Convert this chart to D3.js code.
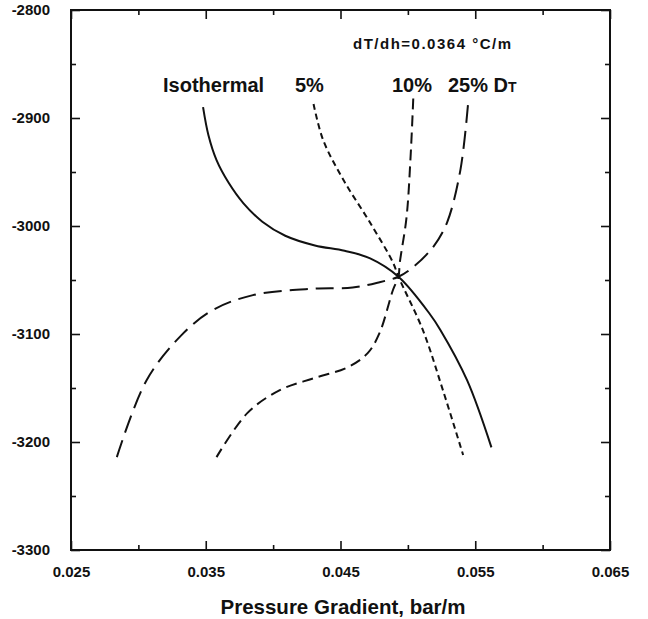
<!DOCTYPE html>
<html>
<head>
<meta charset="utf-8">
<script src="https://cdn.jsdelivr.net/npm/d3@7"></script>
<style>
  body { margin: 0; background: #fff; }
  svg text { font-family: "Liberation Sans", Arial, sans-serif; font-weight: bold; fill: #111; }
</style>
</head>
<body>
<div id="chart"></div>
<script>
// curves: pressure gradient (bar/m) vs depth (m)
var isoGrad  = [0.0348, 0.0352, 0.0358, 0.0367, 0.0378, 0.0392, 0.0409, 0.0431, 0.0453, 0.0472, 0.0493, 0.0516, 0.0524, 0.0544, 0.0562];
var isoDepth = [-2890, -2916, -2939, -2960, -2979, -2996, -3009, -3018, -3023, -3030, -3047, -3081, -3096, -3143, -3205];

var p5Grad  = [0.0430, 0.0437, 0.0452, 0.0472, 0.0489, 0.0493, 0.0511, 0.0526, 0.0541];
var p5Depth = [-2887, -2920, -2957, -2997, -3034, -3047, -3096, -3152, -3212];

var p10Grad  = [0.0504, 0.0502, 0.0499, 0.0494, 0.0493, 0.0489, 0.0479, 0.0470, 0.0455, 0.0430, 0.0405, 0.0381, 0.0358];
var p10Depth = [-2882, -2936, -2992, -3034, -3047, -3059, -3099, -3118, -3131, -3141, -3152, -3173, -3214];

var p25Grad  = [0.0284, 0.0306, 0.0332, 0.0355, 0.0385, 0.0430, 0.0459, 0.0479, 0.0493, 0.0504, 0.0519, 0.0529, 0.0539, 0.0545];
var p25Depth = [-3214, -3143, -3101, -3078, -3064, -3058, -3057, -3052, -3047, -3038, -3019, -2997, -2948, -2882];

var xMajor = [0.025, 0.035, 0.045, 0.055, 0.065];
var xMinor = [0.030, 0.040, 0.050, 0.060];
var yMajor = [-2800, -2900, -3000, -3100, -3200, -3300];
var yMinor = [-2850, -2950, -3050, -3150, -3250];

var svgWidth = 648;
var svgHeight = 619;
var margin = { top: 10, right: 38, bottom: 69, left: 71 };
var width = svgWidth - margin.left - margin.right;
var height = svgHeight - margin.top - margin.bottom;

var svg = d3.select("#chart")
  .append("svg")
  .attr("width", svgWidth)
  .attr("height", svgHeight);

var chartGroup = svg.append("g")
  .attr("transform", `translate(${margin.left}, ${margin.top})`);

var x = d3.scaleLinear().domain([0.025, 0.065]).range([0, width]);
var y = d3.scaleLinear().domain([-2800, -3300]).range([0, height]);

function drawAxis(axis, tr, vals, size, labels, pad) {
  var g = chartGroup.append("g")
    .attr("transform", tr)
    .call(axis.tickValues(vals).tickSizeInner(size).tickSizeOuter(0)
      .tickPadding(pad || 3)
      .tickFormat(labels ? d3.format(labels) : ""));
  g.select(".domain").remove();
  g.selectAll("line").attr("stroke", "#111").attr("stroke-width", 1.6);
  return g;
}

// inward ticks on all four sides
var bx = drawAxis(d3.axisBottom(x), `translate(0, ${height})`, xMajor, -9, ".3f", 16);
drawAxis(d3.axisBottom(x), `translate(0, ${height})`, xMinor, -5);
drawAxis(d3.axisTop(x), "translate(0,0)", xMajor, -9);
drawAxis(d3.axisTop(x), "translate(0,0)", xMinor, -5);
var ly = drawAxis(d3.axisLeft(y), "translate(0,0)", yMajor, -9, "d", 21);
drawAxis(d3.axisLeft(y), "translate(0,0)", yMinor, -5);
drawAxis(d3.axisRight(y), `translate(${width}, 0)`, yMajor, -9);
drawAxis(d3.axisRight(y), `translate(${width}, 0)`, yMinor, -5);

bx.selectAll("text").style("font-size", "15px");
ly.selectAll("text").style("font-size", "15px").text(d => "-" + Math.abs(d));

chartGroup.append("rect")
  .attr("width", width)
  .attr("height", height)
  .attr("fill", "none")
  .attr("stroke", "#111")
  .attr("stroke-width", 2);

var line = d3.line()
  .x(d => x(d[0]))
  .y(d => y(d[1]))
  .curve(d3.curveCatmullRom.alpha(0.5));

var series = [
  { g: isoGrad, d: isoDepth, dash: null },
  { g: p5Grad, d: p5Depth, dash: "6,4" },
  { g: p10Grad, d: p10Depth, dash: "11,6" },
  { g: p25Grad, d: p25Depth, dash: "18,8" }
];

series.forEach(function(s) {
  chartGroup.append("path")
    .datum(d3.zip(s.g, s.d))
    .attr("d", line)
    .attr("fill", "none")
    .attr("stroke", "#111")
    .attr("stroke-width", 2)
    .attr("stroke-dasharray", s.dash);
});

// curve labels
svg.append("text").attr("x", 163).attr("y", 92).style("font-size", "20px").text("Isothermal");
svg.append("text").attr("x", 295).attr("y", 92).style("font-size", "20px").text("5%");
svg.append("text").attr("x", 392).attr("y", 92).style("font-size", "20px").text("10%");
var t25 = svg.append("text").attr("x", 448).attr("y", 92).style("font-size", "20px").text("25% D");
t25.append("tspan").style("font-size", "14px").text("T");

svg.append("text")
  .attr("x", 353)
  .attr("y", 49)
  .attr("textLength", 158)
  .attr("lengthAdjust", "spacing")
  .style("font-size", "15px")
  .text("dT/dh=0.0364 °C/m");

svg.append("text")
  .attr("x", 343)
  .attr("y", 614)
  .attr("text-anchor", "middle")
  .style("font-size", "20.5px")
  .text("Pressure Gradient, bar/m");
</script>
</body>
</html>
